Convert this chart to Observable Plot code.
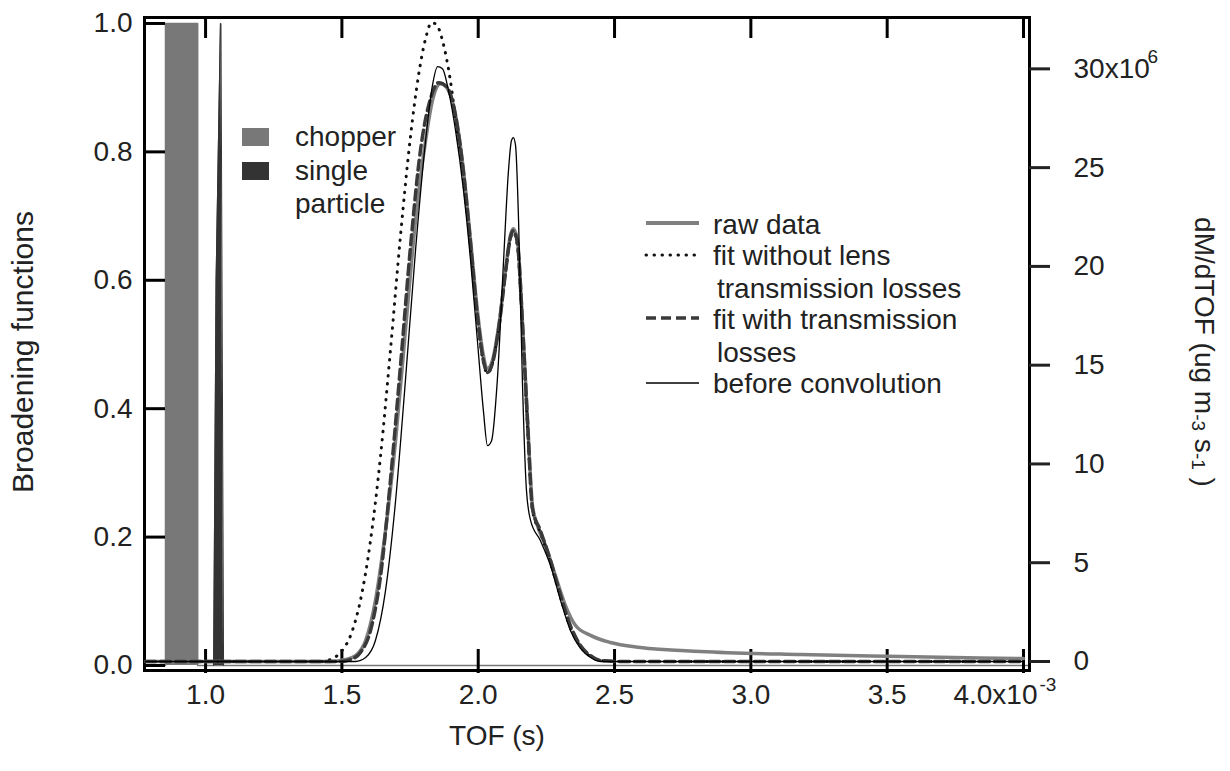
<!DOCTYPE html>
<html><head><meta charset="utf-8">
<script src="https://cdn.jsdelivr.net/npm/d3@7"></script>
<script src="https://cdn.jsdelivr.net/npm/@observablehq/plot@0.6"></script>
<style>
body{margin:0;background:#fff;}
#wrap{position:relative;width:1230px;height:771px;overflow:hidden;}
#wrap svg{position:absolute;left:0;top:0;}
</style></head><body><div id="wrap"></div>
<script>
// ---------- data (TOF in units of 1e-3 s) ----------
const xTicks = [1.0, 1.5, 2.0, 2.5, 3.0, 3.5, 4.0];
const xTickLabels = ["1.0", "1.5", "2.0", "2.5", "3.0", "3.5", "4.0x10"];
const leftTicks = [0, 0.2, 0.4, 0.6, 0.8, 1.0];
const leftTickLabels = ["0.0", "0.2", "0.4", "0.6", "0.8", "1.0"];
const rightTicks = [0, 5, 10, 15, 20, 25, 30];
const rightTickLabels = ["0", "5", "10", "15", "20", "25", "30x10"];

// broadening functions (left axis)
const chopperT = [0.776, 0.853, 0.853, 0.971, 0.971, 4.022];
const chopperV = [0, 0, 1.0, 1.0, 0, 0];
const singleT = [1.0295, 1.0385, 1.0545, 1.0565, 1.066];
const singleV = [0, 0.6, 1.0, 1.0, 0];

// dM/dTOF (right axis, 1e6 ug m-3 s-1)
const rawT = [0.78,1.458,1.513,1.550,1.587,1.623,1.660,1.697,1.733,1.770,1.807,1.832,1.862,1.887,1.917,1.946,1.972,1.997,2.019,2.034,2.052,2.078,2.100,2.118,2.129,2.144,2.162,2.181,2.199,2.217,2.247,2.283,2.320,2.357,2.412,2.485,2.595,2.815,3.182,3.549,4.0];
const rawV = [0,0,0.1,0.3,1.06,3.09,6.63,11.18,16.75,22.32,26.37,28.39,29.25,29.0,27.63,24.85,21.3,17.76,15.49,14.83,15.23,17.26,19.79,21.56,21.91,21.3,17.26,12.2,7.89,6.88,5.87,4.35,2.83,1.82,1.32,0.96,0.71,0.51,0.35,0.25,0.15];

const fitLossT = [0.78,1.495,1.532,1.568,1.605,1.642,1.678,1.715,1.752,1.788,1.825,1.855,1.884,1.917,1.946,1.972,1.997,2.019,2.034,2.052,2.078,2.100,2.118,2.129,2.144,2.162,2.181,2.199,2.228,2.265,2.302,2.338,2.375,2.412,2.449,2.522,4.0];
const fitLossV = [0,0,0.1,0.46,1.57,4.35,9.16,14.98,21.05,25.86,28.49,29.3,29.1,27.63,24.75,21.15,17.5,15.23,14.63,15.08,17.16,19.69,21.46,21.81,21.15,17.16,12.1,7.74,6.63,5.11,3.34,1.82,0.81,0.30,0.05,0,0];

const fitNoLossT = [0.78,1.422,1.458,1.495,1.532,1.568,1.605,1.642,1.678,1.715,1.752,1.781,1.807,1.829,1.847,1.869,1.895,1.920,1.946,1.972,1.997,2.019,2.034,2.052,2.078,2.100,2.118,2.129,2.144,2.162,2.181,2.199,2.228,2.265,2.302,2.338,2.375,2.412,2.449,2.522,4.0];
const fitNoLossV = [0,0,0.1,0.46,1.32,3.09,6.12,10.43,15.74,21.56,26.62,29.66,31.53,32.34,32.24,31.43,29.66,27.13,24.34,20.95,17.36,15.13,14.58,15.08,17.16,19.69,21.41,21.71,21.0,16.95,11.79,7.64,6.53,5.01,3.24,1.72,0.76,0.25,0.05,0,0];

const beforeT = [0.78,1.550,1.587,1.623,1.660,1.697,1.733,1.770,1.807,1.832,1.851,1.869,1.891,1.917,1.946,1.972,1.997,2.019,2.034,2.049,2.070,2.093,2.111,2.122,2.129,2.137,2.148,2.162,2.177,2.192,2.228,2.265,2.302,2.338,2.375,2.412,2.449,4.0];
const beforeV = [0,0,0.2,1.06,3.59,8.15,14.22,20.8,26.37,29.15,30.11,30.0,28.9,26.87,23.84,20.29,16.25,12.7,10.93,11.18,14.22,20.29,24.85,26.37,26.52,26.11,22.32,14.22,8.65,7.14,6.12,4.86,3.09,1.57,0.66,0.2,0,0];

const zip = (T, V) => T.map((t, i) => ({t, v: V[i]}));

// ---------- layout ----------
const W = 1230, H = 771, mL = 144, mR = 201, mT = 17, mB = 101;
const plotW = W - mL - mR, plotH = H - mT - mB;
const FONT = "'Liberation Sans', Arial, sans-serif";
const xDomain = [0.776, 4.022];
const leftDomain = [-0.0078, 1.0093];
const rightDomain = [-0.456, 32.6];
const common = {width: W, height: H, marginLeft: mL, marginRight: mR, marginTop: mT, marginBottom: mB};

const plotA = Plot.plot({
  ...common,
  style: {fontFamily: FONT, fontSize: "28px", color: "#222", background: "white", overflow: "visible"},
  x: {domain: xDomain, axis: null},
  y: {domain: leftDomain, axis: null},
  marks: [
    Plot.areaY(zip(chopperT, chopperV), {x: "t", y: "v", fill: "#787878"}),
    Plot.line(zip(chopperT, chopperV), {x: "t", y: "v", stroke: "#787878", strokeWidth: 1.5}),
    Plot.areaY(zip(singleT, singleV), {x: "t", y: "v", fill: "#333"}),
    Plot.line(zip(singleT, singleV), {x: "t", y: "v", stroke: "#333", strokeWidth: 1}),
    Plot.tickY(leftTicks, {y: d => d, stroke: "#000", strokeWidth: 3, insetRight: plotW - 21}),
    Plot.tickX(xTicks, {x: d => d, stroke: "#000", strokeWidth: 3, insetTop: plotH - 21, insetBottom: -3}),
    Plot.tickX(xTicks, {x: d => d, stroke: "#000", strokeWidth: 3, insetBottom: plotH - 21}),
    Plot.frame({stroke: "#000", strokeWidth: 3}),
    Plot.text(leftTicks, {y: d => d, text: (d, i) => leftTickLabels[i], frameAnchor: "left", textAnchor: "end", dx: -12, fontSize: 28, fill: "#222"}),
    Plot.text(xTicks.slice(0, 6), {x: d => d, text: (d, i) => xTickLabels[i], frameAnchor: "bottom", dy: 33, fontSize: 28, fill: "#222"}),
    Plot.text(xTicks.slice(6), {x: d => d, text: () => xTickLabels[6], frameAnchor: "bottom", dy: 33, dx: 14, textAnchor: "end", fontSize: 28, fill: "#222"}),
    Plot.text(xTicks.slice(6), {x: d => d, text: () => "-3", frameAnchor: "bottom", dy: 20, dx: 16, textAnchor: "start", fontSize: 19, fill: "#222"})
  ]
});

const plotB = Plot.plot({
  ...common,
  style: {fontFamily: FONT, fontSize: "28px", color: "#222", background: "transparent", overflow: "visible"},
  x: {domain: xDomain, axis: null},
  y: {domain: rightDomain, axis: null},
  marks: [
    Plot.line(zip(rawT, rawV), {x: "t", y: "v", stroke: "#808080", strokeWidth: 3.5, curve: "monotone-x"}),
    Plot.line(zip(fitNoLossT, fitNoLossV), {x: "t", y: "v", stroke: "#111", strokeWidth: 3, strokeDasharray: "0.5 7.5", strokeLinecap: "round", curve: "monotone-x"}),
    Plot.line(zip(fitLossT, fitLossV), {x: "t", y: "v", stroke: "#3a3a3a", strokeWidth: 3.5, strokeDasharray: "10 5", curve: "monotone-x"}),
    Plot.line(zip(beforeT, beforeV), {x: "t", y: "v", stroke: "#000", strokeWidth: 1.3, curve: "monotone-x"}),
    Plot.tickY(rightTicks, {y: d => d, stroke: "#222", strokeWidth: 3, insetLeft: plotW, insetRight: -21}),
    Plot.text(rightTicks, {y: d => d, text: (d, i) => rightTickLabels[i], frameAnchor: "right", textAnchor: "start", dx: 44, fontSize: 28, fill: "#222"}),
    Plot.text(rightTicks.slice(6), {y: d => d, text: () => "6", frameAnchor: "right", textAnchor: "start", dx: 118, dy: -12, fontSize: 19, fill: "#222"})
  ]
});

const wrap = document.getElementById("wrap");
wrap.appendChild(plotA);
wrap.appendChild(plotB);

// ---------- legends & titles ----------
const ov = d3.select(wrap).append("svg").attr("width", W).attr("height", H)
  .style("font-family", FONT).style("font-size", "28px").attr("fill", "#222");

ov.append("rect").attr("x", 242).attr("y", 128).attr("width", 27).attr("height", 18).attr("fill", "#787878");
ov.append("rect").attr("x", 242).attr("y", 162).attr("width", 27).attr("height", 18).attr("fill", "#333");
const leg1 = [["chopper", 295, 146], ["single", 295, 180], ["particle", 295, 213]];
leg1.forEach(([s, x, y]) => ov.append("text").attr("x", x).attr("y", y).text(s));

const legLines = [
  {y: 223, stroke: "#808080", w: 4, dash: null, cap: "butt"},
  {y: 255, stroke: "#111", w: 3, dash: "0.5 7.5", cap: "round"},
  {y: 318, stroke: "#3a3a3a", w: 3.5, dash: "10 5", cap: "butt"},
  {y: 383, stroke: "#000", w: 1.3, dash: null, cap: "butt"}
];
legLines.forEach(l => ov.append("line").attr("x1", 646).attr("x2", 699).attr("y1", l.y).attr("y2", l.y)
  .attr("stroke", l.stroke).attr("stroke-width", l.w).attr("stroke-dasharray", l.dash).attr("stroke-linecap", l.cap));
const leg2 = [["raw data", 713, 234], ["fit without lens", 713, 265], ["transmission losses", 717, 298],
  ["fit with transmission", 713, 329], ["losses", 717, 362], ["before convolution", 713, 393]];
leg2.forEach(([s, x, y]) => ov.append("text").attr("x", x).attr("y", y).text(s));

ov.append("text").attr("transform", "translate(22,352) rotate(-90)").attr("text-anchor", "middle")
  .attr("dominant-baseline", "central").style("font-size", "30px").text("Broadening functions");

const rt = ov.append("text").attr("transform", "translate(1205,352) rotate(90)").attr("text-anchor", "middle")
  .attr("dominant-baseline", "central");
rt.append("tspan").text("dM/dTOF (ug m");
rt.append("tspan").attr("dy", 6).attr("font-size", 19).text("-3");
rt.append("tspan").attr("dy", -6).text(" s");
rt.append("tspan").attr("dy", 6).attr("font-size", 19).text("-1");
rt.append("tspan").attr("dy", -6).text(" )");

ov.append("text").attr("x", 497).attr("y", 745).attr("text-anchor", "middle").text("TOF (s)");
</script>
</body></html>
